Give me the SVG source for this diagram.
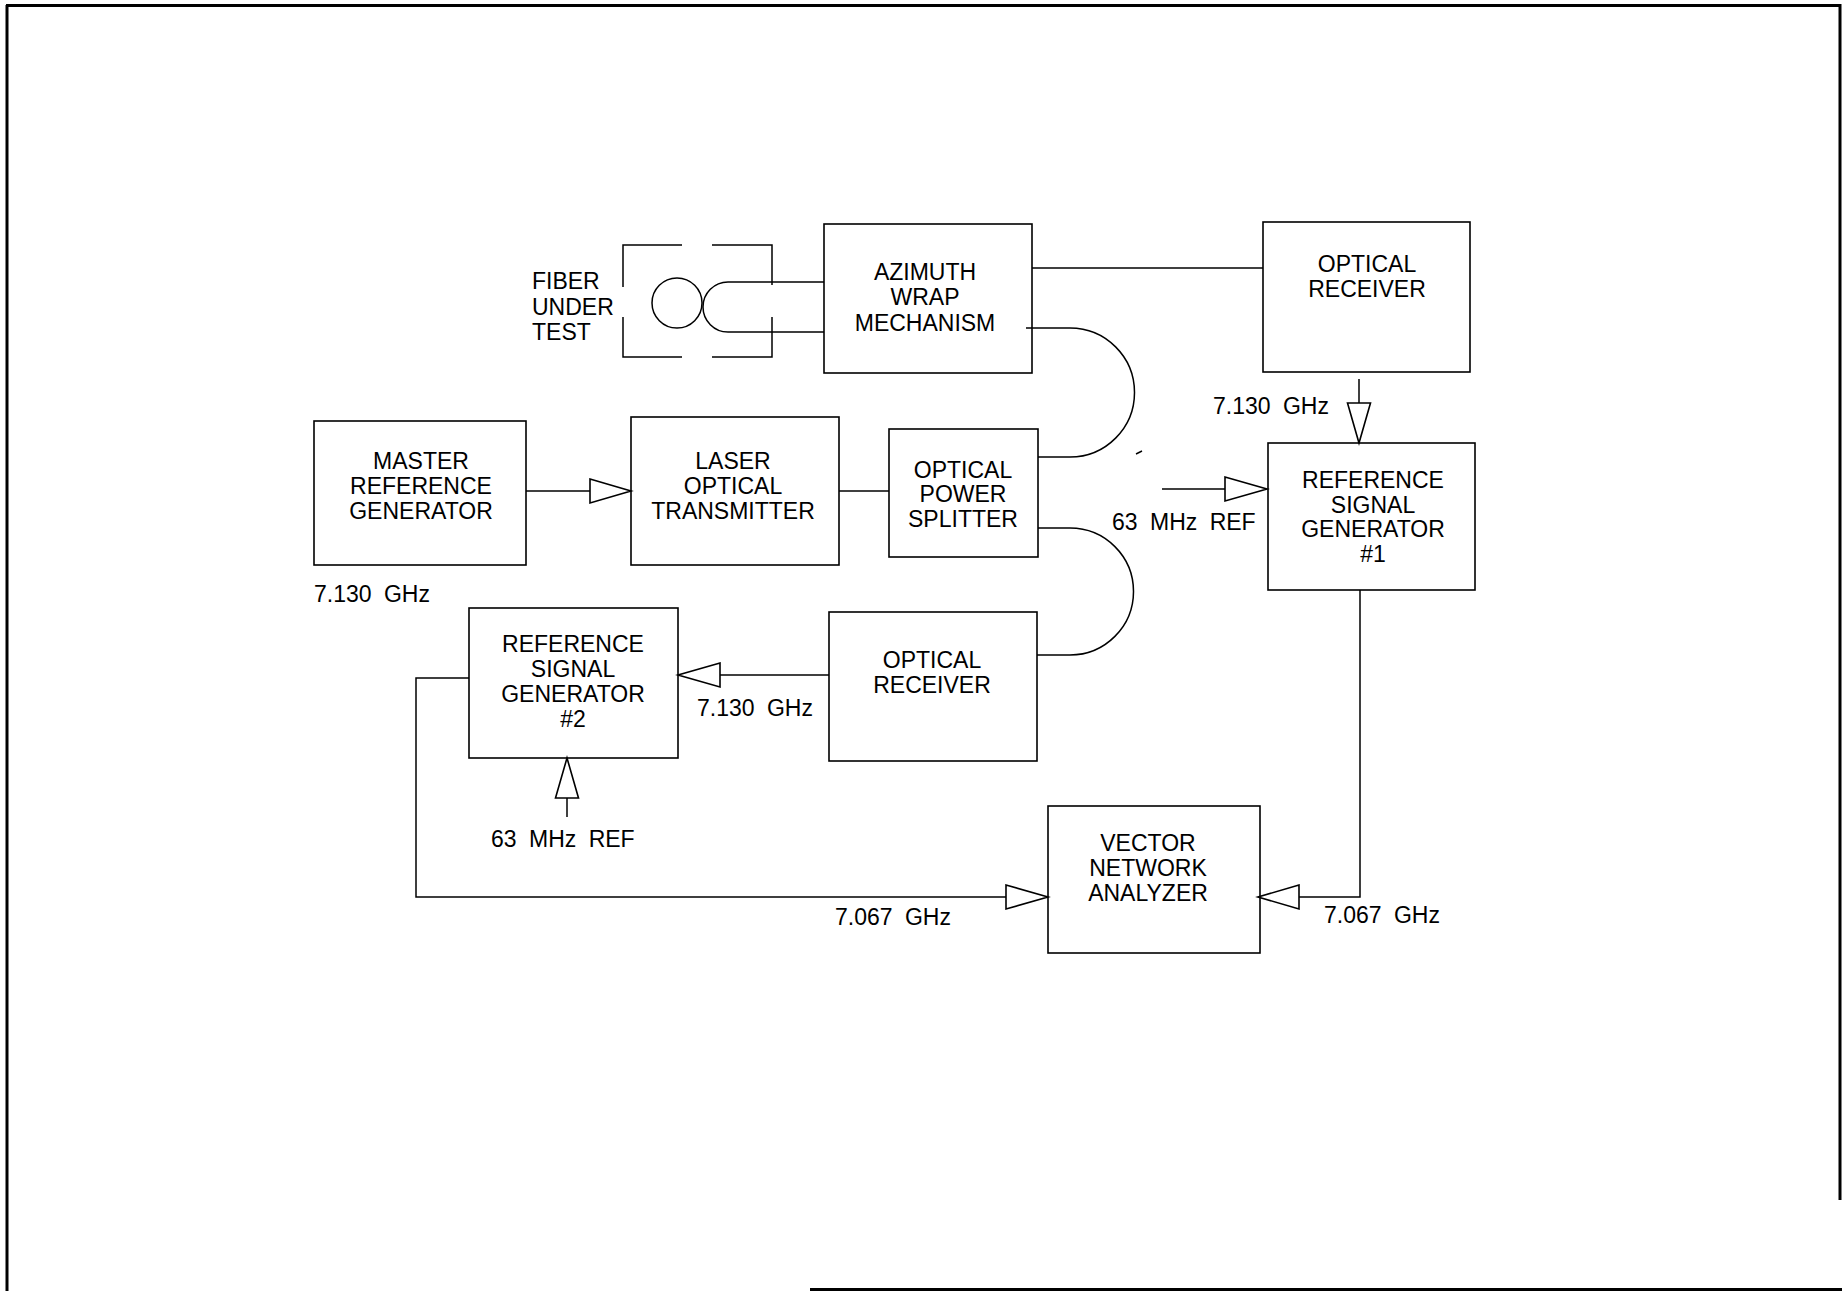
<svg xmlns="http://www.w3.org/2000/svg" width="1842" height="1291" viewBox="0 0 1842 1291">
<style>
  .box { fill: none; stroke: #000; stroke-width: 1.6; }
  .ln { fill: none; stroke: #000; stroke-width: 1.5; }
  .tri { fill: #fff; stroke: #000; stroke-width: 1.6; stroke-linejoin: miter; }
  .frame { fill: none; stroke: #000; stroke-width: 3; }
  text { font-family: "Liberation Sans", Arial, sans-serif; font-size: 23px; fill: #000; }
  .c { text-anchor: middle; }
  .lbl { word-spacing: 6px; }
</style>
<rect x="0" y="0" width="1842" height="1291" fill="#fff"/>
<g id="frame">
  <line class="frame" x1="7" y1="5" x2="7" y2="1291"/>
  <line class="frame" x1="6" y1="5.5" x2="1841" y2="5.5"/>
  <line class="frame" x1="1840" y1="4" x2="1840" y2="1200"/>
  <line class="frame" x1="810" y1="1289.5" x2="1842" y2="1289.5" stroke-width="2.5"/>
  <line class="ln" x1="1136" y1="454" x2="1142" y2="451"/>
</g>

<g id="fiber-under-test">
  <path class="ln" d="M623 287 V245 H682 M712 245 H772 V285 M772 317 V357 H712 M682 357 H623 V317"/>
  <circle class="ln" cx="677" cy="303" r="25"/>
  <path class="ln" d="M824 282 H728 A25 25 0 0 0 728 332 H824"/>
  <text x="532" y="289">FIBER</text>
  <text x="532" y="315">UNDER</text>
  <text x="532" y="340">TEST</text>
</g>

<g id="azimuth-wrap">
  <rect class="box" x="824" y="224" width="208" height="149"/>
  <text class="c" x="925" y="280">AZIMUTH</text>
  <text class="c" x="925" y="305">WRAP</text>
  <text class="c" x="925" y="331">MECHANISM</text>
</g>

<g id="optical-receiver-1">
  <rect class="box" x="1263" y="222" width="207" height="150"/>
  <text class="c" x="1367" y="272">OPTICAL</text>
  <text class="c" x="1367" y="297">RECEIVER</text>
</g>

<g id="master-reference">
  <rect class="box" x="314" y="421" width="212" height="144"/>
  <text class="c" x="421" y="469">MASTER</text>
  <text class="c" x="421" y="494">REFERENCE</text>
  <text class="c" x="421" y="519">GENERATOR</text>
  <text class="lbl" x="314" y="602">7.130 GHz</text>
</g>

<g id="laser-transmitter">
  <rect class="box" x="631" y="417" width="208" height="148"/>
  <text class="c" x="733" y="469">LASER</text>
  <text class="c" x="733" y="494">OPTICAL</text>
  <text class="c" x="733" y="519">TRANSMITTER</text>
</g>

<g id="power-splitter">
  <rect class="box" x="889" y="429" width="149" height="128"/>
  <text class="c" x="963" y="478">OPTICAL</text>
  <text class="c" x="963" y="502">POWER</text>
  <text class="c" x="963" y="527">SPLITTER</text>
</g>

<g id="ref-signal-gen-1">
  <rect class="box" x="1268" y="443" width="207" height="147"/>
  <text class="c" x="1373" y="488">REFERENCE</text>
  <text class="c" x="1373" y="513">SIGNAL</text>
  <text class="c" x="1373" y="537">GENERATOR</text>
  <text class="c" x="1373" y="562">#1</text>
</g>

<g id="ref-signal-gen-2">
  <rect class="box" x="469" y="608" width="209" height="150"/>
  <text class="c" x="573" y="652">REFERENCE</text>
  <text class="c" x="573" y="677">SIGNAL</text>
  <text class="c" x="573" y="702">GENERATOR</text>
  <text class="c" x="573" y="727">#2</text>
</g>

<g id="optical-receiver-2">
  <rect class="box" x="829" y="612" width="208" height="149"/>
  <text class="c" x="932" y="668">OPTICAL</text>
  <text class="c" x="932" y="693">RECEIVER</text>
</g>

<g id="vector-network-analyzer">
  <rect class="box" x="1048" y="806" width="212" height="147"/>
  <text class="c" x="1148" y="851">VECTOR</text>
  <text class="c" x="1148" y="876">NETWORK</text>
  <text class="c" x="1148" y="901">ANALYZER</text>
</g>

<g id="connectors">
  <!-- azimuth to optical receiver 1 -->
  <line class="ln" x1="1032" y1="268" x2="1263" y2="268"/>
  <!-- azimuth to splitter fiber loop -->
  <path class="ln" d="M1026 328 H1070 A64.5 64.5 0 0 1 1070 457 H1038"/>
  <!-- splitter to optical receiver 2 fiber loop -->
  <path class="ln" d="M1038 528 H1070 A63.5 63.5 0 0 1 1070 655 H1037"/>
  <!-- master to laser -->
  <line class="ln" x1="526" y1="491" x2="590" y2="491"/>
  <polygon class="tri" points="590,479 631,491 590,503"/>
  <!-- laser to splitter -->
  <line class="ln" x1="839" y1="491" x2="889" y2="491"/>
  <!-- 63 MHz ref to RSG1 -->
  <line class="ln" x1="1162" y1="489" x2="1225" y2="489"/>
  <polygon class="tri" points="1225,477 1267,489 1225,501"/>
  <text class="lbl" x="1112" y="530">63 MHz REF</text>
  <!-- optical receiver 1 to RSG1 -->
  <line class="ln" x1="1359" y1="379" x2="1359" y2="403"/>
  <polygon class="tri" points="1347.5,403 1359,443 1370.5,403"/>
  <text class="lbl" x="1213" y="414">7.130 GHz</text>
  <!-- optical receiver 2 to RSG2 -->
  <line class="ln" x1="829" y1="675" x2="720" y2="675"/>
  <polygon class="tri" points="720,663 678,675 720,687"/>
  <text class="lbl" x="697" y="716">7.130 GHz</text>
  <!-- 63 MHz ref to RSG2 -->
  <line class="ln" x1="567" y1="817" x2="567" y2="798"/>
  <polygon class="tri" points="555.5,798 567,758 578.5,798"/>
  <text class="lbl" x="491" y="847">63 MHz REF</text>
  <!-- RSG2 to VNA -->
  <path class="ln" d="M469 678 H416 V897 H1006"/>
  <polygon class="tri" points="1006,885 1048,897 1006,909"/>
  <text class="lbl" x="835" y="925">7.067 GHz</text>
  <!-- RSG1 to VNA -->
  <path class="ln" d="M1360 590 V897 H1299"/>
  <polygon class="tri" points="1299,885 1258,897 1299,909"/>
  <text class="lbl" x="1324" y="923">7.067 GHz</text>
</g>
</svg>
